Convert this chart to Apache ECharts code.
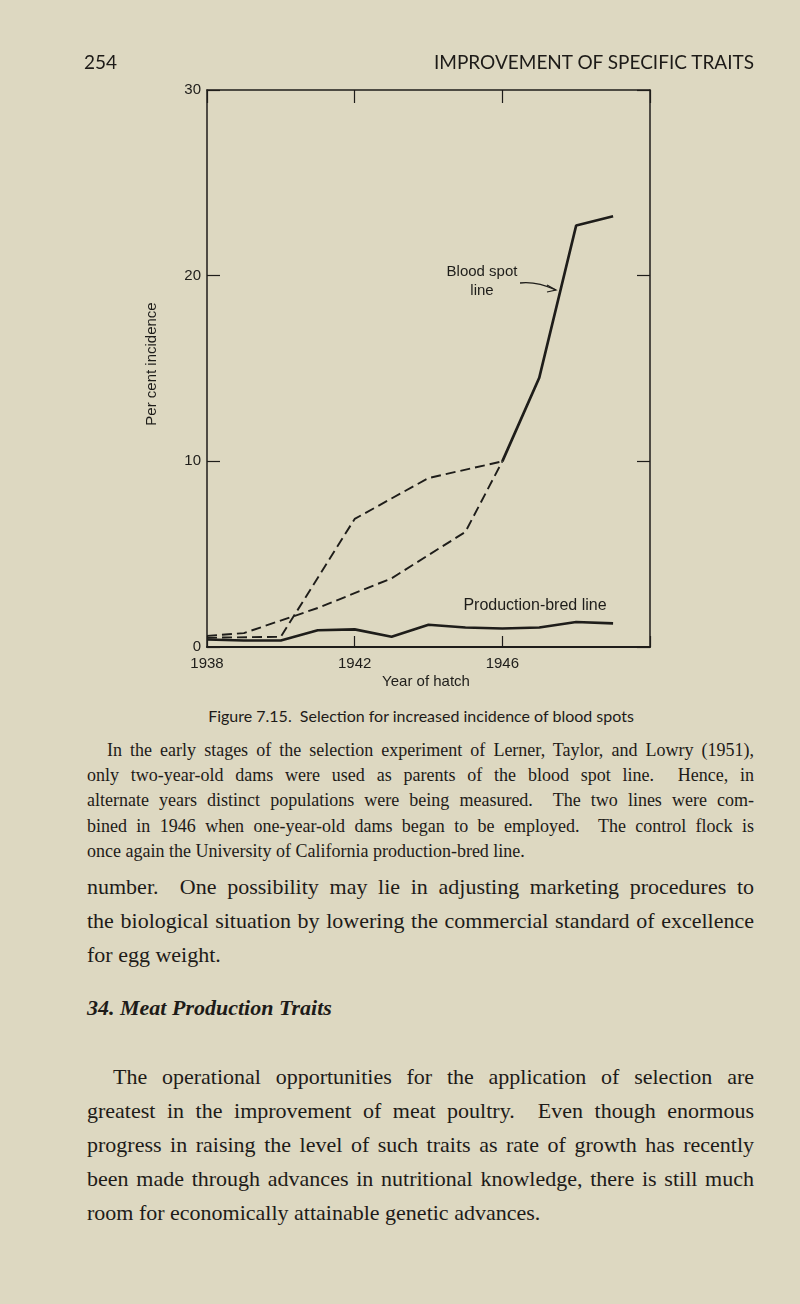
<!DOCTYPE html>
<html>
<head>
<meta charset="utf-8">
<script src="https://cdn.jsdelivr.net/npm/echarts/dist/echarts.min.js"></script>
<style>
  html, body { margin: 0; padding: 0; background: #ddd8c1; }
  #page { position: relative; width: 800px; height: 1304px; overflow: hidden; background: #ddd8c1; }
  #chart { position: absolute; left: 0; top: 0; width: 800px; height: 700px; }
  .ln { position: absolute; white-space: pre; color: #1d1b18; }
  .serif { font-family: "Liberation Serif", "Times New Roman", serif; }
  .sans { font-family: "Lato", "Open Sans", sans-serif; }
</style>
</head>
<body>
<div id="page">
  <div id="chart"></div>
</div>
<script>
// ---------- data ----------
const prodYears   = [1938, 1939, 1940, 1941, 1942, 1943, 1944, 1945, 1946, 1947, 1948, 1949];
const prodValues  = [0.40, 0.35, 0.35, 0.90, 0.95, 0.55, 1.20, 1.05, 1.00, 1.05, 1.35, 1.27];

const lineAYears  = [1938, 1939, 1941, 1943, 1945, 1946];
const lineAValues = [0.60, 0.75, 2.10, 3.70, 6.20, 10.0];

const lineBYears  = [1938, 1940, 1942, 1944, 1946];
const lineBValues = [0.50, 0.55, 6.90, 9.10, 10.0];

const bloodYears  = [1946, 1947, 1948, 1949];
const bloodValues = [10.0, 14.5, 22.7, 23.2];

const xTickLabels = {1938: '1938', 1942: '1942', 1946: '1946', 1950: ''};
const yTickLabels = {0: '0', 10: '10', 20: '20', 30: '30'};

// ---------- page text ----------
const headerPage  = '254';
const headerTitle = 'IMPROVEMENT OF SPECIFIC TRAITS';
const captionText = 'Figure 7.15.  Selection for increased incidence of blood spots';
const noteLines = [
  'In the early stages of the selection experiment of Lerner, Taylor, and Lowry (1951),',
  'only two-year-old dams were used as parents of the blood spot line.  Hence, in',
  'alternate years distinct populations were being measured.  The two lines were com-',
  'bined in 1946 when one-year-old dams began to be employed.  The control flock is',
  'once again the University of California production-bred line.'
];
const para1Lines = [
  'number.  One possibility may lie in adjusting marketing procedures to',
  'the biological situation by lowering the commercial standard of excellence',
  'for egg weight.'
];
const headingText = '34. Meat Production Traits';
const para3Lines = [
  'The operational opportunities for the application of selection are',
  'greatest in the improvement of meat poultry.  Even though enormous',
  'progress in raising the level of such traits as rate of growth has recently',
  'been made through advances in nutritional knowledge, there is still much',
  'room for economically attainable genetic advances.'
];

function pairs(xs, ys) { return xs.map((x, i) => [x, ys[i]]); }

// ---------- chart ----------
const ink = '#1e1d1a';
const font = '"Liberation Sans", Arial, sans-serif';
const chart = echarts.init(document.getElementById('chart'), null, {renderer: 'canvas'});

function axis(extra) {
  return Object.assign({
    type: 'value',
    splitLine: { show: false },
    axisLine: { show: true, onZero: false, lineStyle: { color: ink, width: 1.5 } },
    axisTick: { show: true, inside: true, length: 13, lineStyle: { color: ink, width: 1.2 } }
  }, extra);
}

const option = {
  animation: false,
  backgroundColor: 'transparent',
  grid: { left: 207, top: 90, width: 443, height: 557 },
  xAxis: [
    axis({
      min: 1938, max: 1950, interval: 4, position: 'bottom',
      axisLine: { show: true, onZero: false, lineStyle: { color: ink, width: 2.2 } },
      axisTick: { show: true, inside: true, length: 11, lineStyle: { color: ink, width: 1.2 } },
      axisLabel: { formatter: v => xTickLabels[v] || '', color: ink, fontFamily: font, fontSize: 15, margin: 9 }
    }),
    axis({
      min: 1938, max: 1950, interval: 4, position: 'top',
      axisLabel: { show: false }
    })
  ],
  yAxis: [
    axis({
      min: 0, max: 30, interval: 10, position: 'left',
      axisLabel: { formatter: v => yTickLabels[v] || '', color: ink, fontFamily: font, fontSize: 15, margin: 6 }
    }),
    axis({
      min: 0, max: 30, interval: 10, position: 'right',
      axisLabel: { show: false }
    })
  ],
  series: [
    { name: 'Production-bred line', type: 'line', data: pairs(prodYears, prodValues),
      symbol: 'none', lineStyle: { color: ink, width: 2.6 }, z: 3 },
    { name: 'Blood spot (A)', type: 'line', data: pairs(lineAYears, lineAValues),
      symbol: 'none', lineStyle: { color: ink, width: 1.9, type: [10, 5] }, z: 2 },
    { name: 'Blood spot (B)', type: 'line', data: pairs(lineBYears, lineBValues),
      symbol: 'none', lineStyle: { color: ink, width: 1.9, type: [10, 5] }, z: 2 },
    { name: 'Blood spot line', type: 'line', data: pairs(bloodYears, bloodValues),
      symbol: 'none', lineStyle: { color: ink, width: 2.7 }, z: 3 }
  ],
  graphic: [
    { type: 'text', x: 152, y: 364, rotation: Math.PI / 2,
      style: { text: 'Per cent incidence', fill: ink, font: '15px ' + font, align: 'center', verticalAlign: 'middle' } },
    { type: 'text', x: 426, y: 682,
      style: { text: 'Year of hatch', fill: ink, font: '15px ' + font, align: 'center', verticalAlign: 'middle' } },
    { type: 'text', x: 482, y: 272,
      style: { text: 'Blood spot', fill: ink, font: '15px ' + font, align: 'center', verticalAlign: 'middle' } },
    { type: 'text', x: 482, y: 291,
      style: { text: 'line', fill: ink, font: '15px ' + font, align: 'center', verticalAlign: 'middle' } },
    { type: 'text', x: 535, y: 606,
      style: { text: 'Production-bred line', fill: ink, font: '16px ' + font, align: 'center', verticalAlign: 'middle' } },
    { type: 'bezierCurve',
      shape: { x1: 520, y1: 283, cpx1: 536, cpy1: 281, x2: 556, y2: 290 },
      style: { stroke: ink, lineWidth: 1.3, fill: null } },
    { type: 'polyline',
      shape: { points: [[547, 285], [556, 290], [547, 292]] },
      style: { stroke: ink, lineWidth: 1.2, fill: null } }
  ]
};
chart.setOption(option);

// ---------- page text layout ----------
const page = document.getElementById('page');
function addLine(text, cls, left, cy, size, opts) {
  opts = opts || {};
  const d = document.createElement('div');
  d.className = 'ln ' + cls;
  d.textContent = text;
  d.style.fontSize = size + 'px';
  d.style.lineHeight = Math.round(size * 1.2) + 'px';
  d.style.top = (cy - Math.round(size * 1.2) / 2) + 'px';
  if (opts.weight) d.style.fontWeight = opts.weight;
  if (opts.italic) d.style.fontStyle = 'italic';
  if (opts.spacing) d.style.letterSpacing = opts.spacing + 'px';
  page.appendChild(d);
  const w = d.getBoundingClientRect().width;
  if (opts.align === 'right') d.style.left = (left - w) + 'px';
  else if (opts.align === 'center') d.style.left = (left - w / 2) + 'px';
  else d.style.left = left + 'px';
  if (opts.justifyTo) {
    const target = opts.justifyTo - left;
    const spaces = (text.match(/ /g) || []).length;
    if (spaces > 0) d.style.wordSpacing = ((target - w) / spaces) + 'px';
  }
  return d;
}
function addParagraph(lines, left, right, indent, firstCy, step, size) {
  lines.forEach((t, i) => {
    const l = left + (i === 0 ? indent : 0);
    const last = i === lines.length - 1;
    addLine(t, 'serif', l, firstCy + i * step, size, last ? {} : { justifyTo: right });
  });
}

const L = 87, R = 754;
addLine(headerPage, 'sans', 84, 61, 19);
addLine(headerTitle, 'sans', R, 61, 19, { align: 'right' });
addLine(captionText, 'sans', 421, 715, 16, { align: 'center' });
addParagraph(noteLines, L, R, 20, 750, 25.2, 18);
addParagraph(para1Lines, L, R, 0, 887, 34, 22);
addLine(headingText, 'serif', L, 1008, 22, { weight: 'bold', italic: true });
addParagraph(para3Lines, L, R, 26, 1077, 34, 22);
</script>
</body>
</html>
